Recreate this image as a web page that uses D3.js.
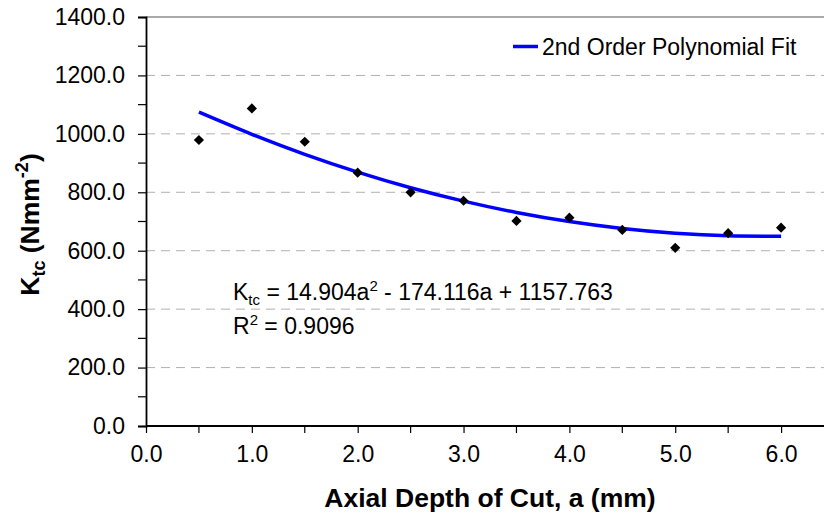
<!DOCTYPE html>
<html>
<head>
<meta charset="utf-8">
<script src="https://cdn.jsdelivr.net/npm/d3@7"></script>
<style>
body { margin: 0; background: #fff; }
text { font-family: "Liberation Sans", Arial, sans-serif; }
</style>
</head>
<body>
<svg id="chart" width="824" height="517"></svg>
<script>
var WIDTH = 824;
var HEIGHT = 517;

// axial depth of cut (mm)
var depths = [0.5, 1.0, 1.5, 2.0, 2.5, 3.0, 3.5, 4.0, 4.5, 5.0, 5.5, 6.0];
// measured Ktc (N/mm^2)
var ktcValues = [979, 1087, 973, 867, 800, 771, 702, 713, 671, 610, 660, 679];
// fitted curve values at the same depths
var fitValues = [1074.4, 998.6, 930.1, 869.2, 815.6, 769.6, 730.9, 699.8, 676.1, 659.8, 651.0, 649.6];

var yTicks = [0, 200, 400, 600, 800, 1000, 1200, 1400];
var yMinor = [100, 300, 500, 700, 900, 1100, 1300];
var xTicks = [0, 1, 2, 3, 4, 5, 6];
var xMinor = [0.5, 1.5, 2.5, 3.5, 4.5, 5.5];

var svg = d3.select('#chart');

var xScale = d3.scaleLinear().domain([0, 6.5]).range([146, 834]);
var yScale = d3.scaleLinear().domain([0, 1400]).range([426, 17]);

// gridlines
svg.append('g').selectAll('line')
    .data(yTicks.filter(function(d){ return d > 0 && d < 1400; }))
    .enter().append('line')
    .attr('x1', xScale(0)).attr('x2', WIDTH)
    .attr('y1', function(d){ return yScale(d); })
    .attr('y2', function(d){ return yScale(d); })
    .attr('stroke', '#b0b0b0')
    .attr('stroke-width', 1)
    .attr('stroke-dasharray', '9,6');

// top border
svg.append('line')
    .attr('x1', xScale(0)).attr('x2', WIDTH)
    .attr('y1', yScale(1400)).attr('y2', yScale(1400))
    .attr('stroke', '#555').attr('stroke-width', 1.2);

// axes
var leftAxis = d3.axisLeft(yScale).tickValues(yTicks).tickSize(8).tickPadding(13)
    .tickFormat(function(d){ return d3.format('.1f')(d); });
var bottomAxis = d3.axisBottom(xScale).tickValues(xTicks).tickSize(7).tickPadding(13)
    .tickFormat(function(d){ return d3.format('.1f')(d); });

var yAxisG = svg.append('g')
    .attr('transform', 'translate(' + xScale(0) + ',0)')
    .call(leftAxis);
var xAxisG = svg.append('g')
    .attr('transform', 'translate(0,' + yScale(0) + ')')
    .call(bottomAxis);

[yAxisG, xAxisG].forEach(function(g){
    g.select('.domain').attr('stroke', '#000').attr('stroke-width', 1.8);
    g.selectAll('.tick line').attr('stroke', '#000').attr('stroke-width', 1.2);
    g.selectAll('.tick text')
        .attr('fill', '#000')
        .style('font-family', '"Liberation Sans", Arial, sans-serif')
        .style('font-size', '23px');
});
xAxisG.select('.domain').attr('d', 'M' + xScale(0) + ',0H' + WIDTH);

// minor ticks
svg.append('g').selectAll('line').data(yMinor).enter().append('line')
    .attr('x1', xScale(0) - 8).attr('x2', xScale(0))
    .attr('y1', function(d){ return yScale(d); })
    .attr('y2', function(d){ return yScale(d); })
    .attr('stroke', '#000').attr('stroke-width', 1.2);
svg.append('g').selectAll('line').data(xMinor).enter().append('line')
    .attr('x1', function(d){ return xScale(d); })
    .attr('x2', function(d){ return xScale(d); })
    .attr('y1', yScale(0)).attr('y2', yScale(0) + 7)
    .attr('stroke', '#000').attr('stroke-width', 1.2);

// fit curve
var fitLine = d3.line()
    .x(function(d, i){ return xScale(depths[i]); })
    .y(function(d){ return yScale(d); })
    .curve(d3.curveNatural);
svg.append('path')
    .datum(fitValues)
    .attr('d', fitLine)
    .attr('fill', 'none')
    .attr('stroke', '#0000ff')
    .attr('stroke-width', 3.5);

// measured points (diamonds)
var diamond = d3.symbol().type(d3.symbolSquare).size(52);
svg.append('g').selectAll('path').data(ktcValues).enter().append('path')
    .attr('d', diamond)
    .attr('transform', function(d, i){
        return 'translate(' + xScale(depths[i]) + ',' + yScale(d) + ') rotate(45)';
    })
    .attr('fill', '#000');

// legend
svg.append('line')
    .attr('x1', 513).attr('x2', 538).attr('y1', 46.5).attr('y2', 46.5)
    .attr('stroke', '#0000ff').attr('stroke-width', 3.5);
svg.append('text')
    .attr('x', 542).attr('y', 55)
    .style('font-size', '23px')
    .text('2nd Order Polynomial Fit');

// equation annotation
var eq = svg.append('text').attr('x', 233).attr('y', 300).style('font-size', '23px');
eq.append('tspan').text('K');
eq.append('tspan').attr('dy', 5).style('font-size', '15px').text('tc');
eq.append('tspan').attr('dy', -5).text(' = 14.904a');
eq.append('tspan').attr('dy', -9).style('font-size', '15px').text('2');
eq.append('tspan').attr('dy', 9).text(' - 174.116a + 1157.763');

var r2 = svg.append('text').attr('x', 233).attr('y', 334).style('font-size', '23px');
r2.append('tspan').text('R');
r2.append('tspan').attr('dy', -9).style('font-size', '15px').text('2');
r2.append('tspan').attr('dy', 9).text(' = 0.9096');

// axis titles
svg.append('text')
    .attr('x', xScale(3.25)).attr('y', 507)
    .attr('text-anchor', 'middle')
    .style('font-size', '26.5px').style('font-weight', 'bold')
    .text('Axial Depth of Cut, a (mm)');

var yt = svg.append('text')
    .attr('transform', 'translate(39,' + ((yScale(0) + yScale(1400)) / 2 + 3) + ') rotate(-90)')
    .attr('text-anchor', 'middle')
    .style('font-size', '26.5px').style('font-weight', 'bold');
yt.append('tspan').text('K');
yt.append('tspan').attr('dy', 6).style('font-size', '18px').text('tc');
yt.append('tspan').attr('dy', -6).text(' (Nmm');
yt.append('tspan').attr('dy', -11).style('font-size', '18px').text('-2');
yt.append('tspan').attr('dy', 11).text(')');
</script>
</body>
</html>
